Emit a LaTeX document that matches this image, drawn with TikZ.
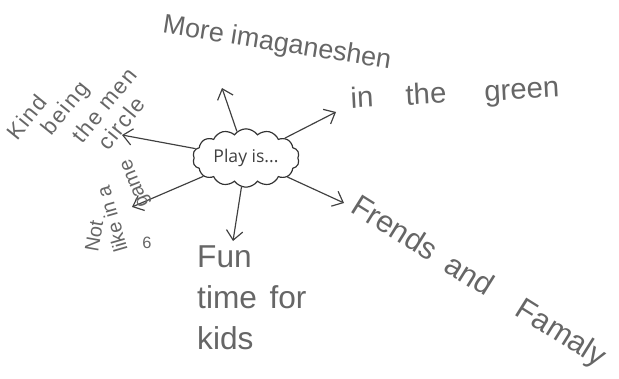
\documentclass[tikz,border=0pt]{standalone}
\usepackage{fontspec}
\setmainfont{Liberation Sans}
\newfontfamily\playfont{Open Sans}
\usepackage{tikz}
\usetikzlibrary{shapes.symbols,arrows.meta,positioning}

\begin{document}
\begin{tikzpicture}[x=0.03cm,y=0.03cm,
	pencil/.style={text=black!60,inner sep=0pt},
	word/.style={pencil,anchor=base west,font=\fontsize{19}{22}\selectfont\addfontfeature{LetterSpace=8}},
	arr/.style={draw=black!75,line width=1pt,-{Straight Barb[length=8pt,width=14pt,line width=1pt]}}]
\useasboundingbox (0,0) rectangle (619,378);
\node[cloud,draw=black!80,line width=1pt,cloud puffs=14,cloud puff arc=110,aspect=1.9,
	minimum width=3.2cm,minimum height=1.75cm,inner sep=0pt,font=\playfont\fontsize{15}{17}\selectfont,text=black!75]
	(play) at (246,220) {Play is...};
% arrow tips
\coordinate (up) at (222,290);
\coordinate (ur) at (336,266);
\coordinate (dr) at (344,175);
\coordinate (dn) at (233,137);
\coordinate (dl) at (132,171);
\coordinate (lf) at (122,243);
\foreach \t in {up,ur,dr,dn,dl,lf}
	\draw[arr] (play) -- (\t);
% the answers
\node[pencil,rotate=-9,font=\fontsize{23}{26}\selectfont] (more) at (277,334) {More imaganeshen};
\node[pencil,rotate=3,font=\fontsize{25}{28}\selectfont] (green) at (455,283) {in\hspace{1.1em}the\hspace{1.3em}green};
\node[pencil,rotate=-32,font=\fontsize{26}{30}\selectfont] (frends) at (478,95) {Frends\enspace and\hspace{1.1em}Famaly};
\node[pencil,anchor=north west,align=left,font=\fontsize{27}{35}\selectfont] (fun) at (197,133) {Fun\\time\hspace{0.4em}for\\kids};
% left side, written sideways
\foreach \w/\x/\y [count=\i] in {Kind/17/236,being/51/241,the men/82/233,circle/108/226}
	\node[word,rotate=51] (kind\i) at (\x,\y) {\w};
\node[word,rotate=80,font=\fontsize{17}{20}\selectfont] (not1) at (98,125) {Not};
\node[word,rotate=106,font=\fontsize{17}{20}\selectfont] (not2) at (128,128) {like in a};
\node[word,rotate=112,font=\fontsize{17}{20}\selectfont] (not3) at (149,173) {game};
\node[pencil,font=\fontsize{14}{16}\selectfont] (six) at (147,135) {6};
\end{tikzpicture}
\end{document}
